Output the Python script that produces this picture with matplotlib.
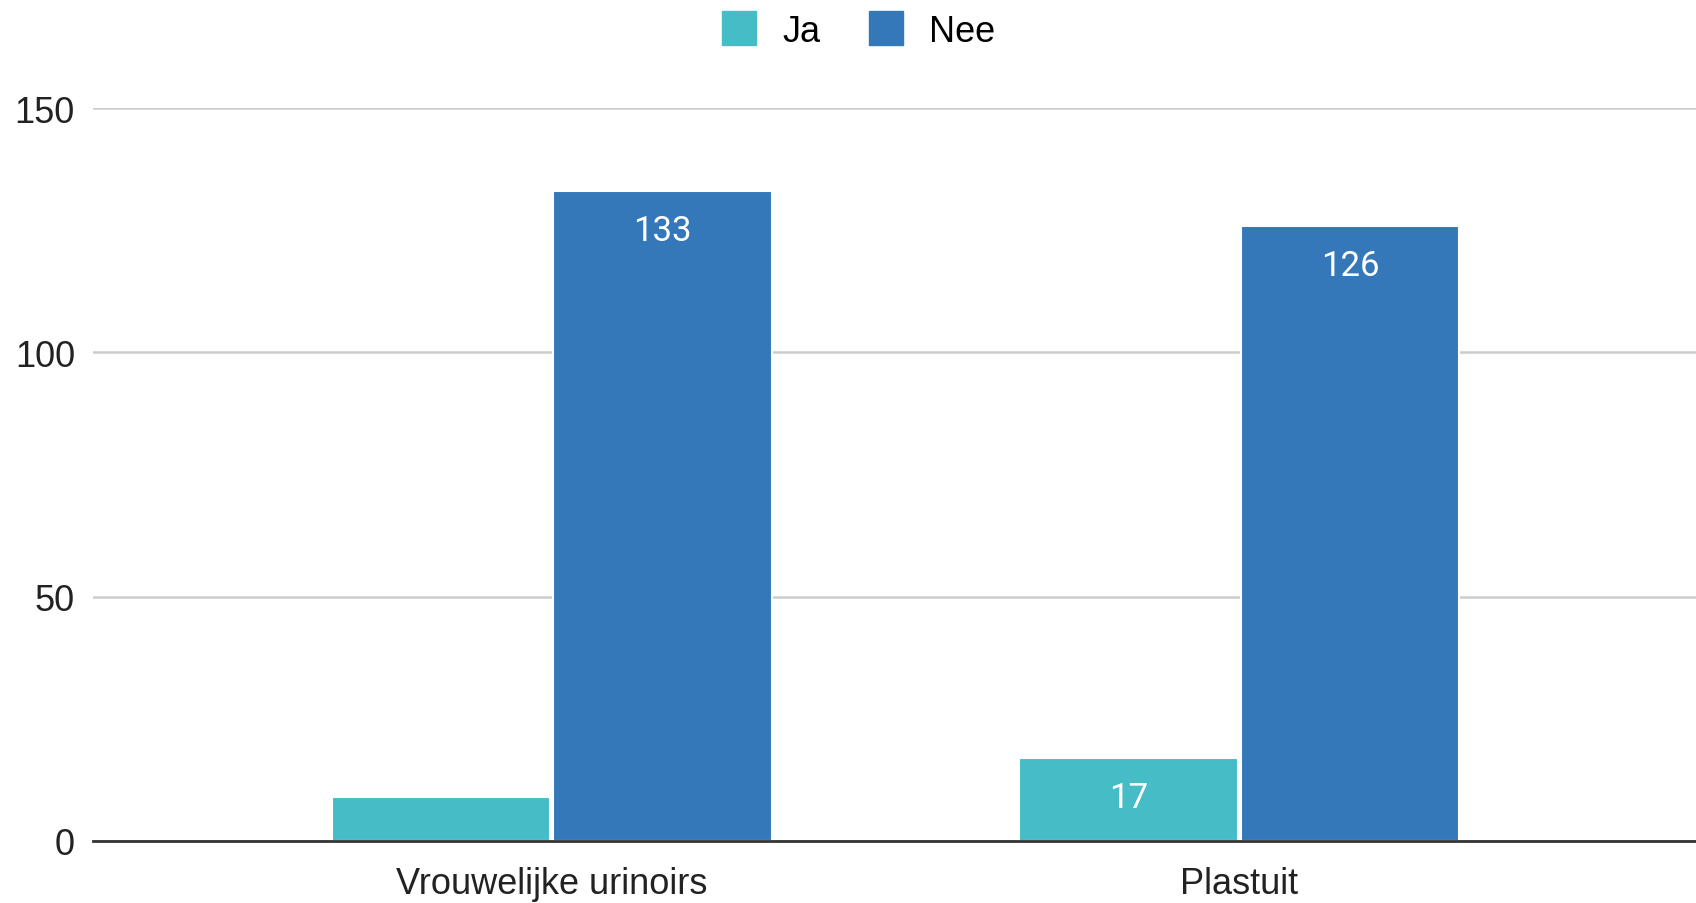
import numpy as np
import matplotlib.pyplot as plt

# data
categories = ["Vrouwelijke urinoirs", "Plastuit"]
ja = [9, 17]
nee = [133, 126]
series_names = ["Ja", "Nee"]
colors = ["#46BDC6", "#3478BA"]

plt.rcParams['font.family'] = ['Liberation Sans', 'DejaVu Sans']

fig = plt.figure(figsize=(16.96, 9.04), dpi=100)
ax = fig.add_axes([0.0548, 0.069, 0.9452, 0.81])

x = np.arange(len(categories))
w = 0.318
bars_ja = ax.bar(x - 0.161, ja, w, color=colors[0], edgecolor="white", linewidth=1.5, zorder=3)
bars_nee = ax.bar(x + 0.161, nee, w, color=colors[1], edgecolor="white", linewidth=1.5, zorder=3)

# value labels inside the bar tops (small bars stay unlabeled, like the original)
for bars in (bars_ja, bars_nee):
    for b in bars:
        h = b.get_height()
        if h < 12:
            continue
        ax.annotate(f"{h:g}", (b.get_x() + b.get_width() / 2, h),
                    xytext=(0, -28.5), textcoords="offset points",
                    ha="center", va="center", color="white",
                    fontsize=25, family=["Roboto", "DejaVu Sans"], zorder=4)

ax.set_ylim(0, 150)
ax.set_xlim(-0.667, 1.664)
ax.set_yticks([0, 50, 100, 150])
ax.set_xticks(x)
ax.set_xticklabels(categories)
ax.tick_params(axis="both", length=0, labelsize=26, labelcolor="#222222")
ax.tick_params(axis="y", pad=13)
ax.tick_params(axis="x", pad=18)

ax.grid(axis="y", color="#cccccc", linewidth=1.8, zorder=0)
ax.set_axisbelow(True)
for s in ["top", "right", "left"]:
    ax.spines[s].set_visible(False)
ax.spines["bottom"].set_color("#333333")
ax.spines["bottom"].set_linewidth(2)
ax.spines["bottom"].set_zorder(5)

handles = [plt.Line2D([], [], marker="s", linestyle="", markersize=25,
                      markerfacecolor=c, markeredgecolor=c) for c in colors]
fig.legend(handles, series_names, loc="center", bbox_to_anchor=(0.506, 0.964),
           ncol=2, frameon=False, fontsize=26, handletextpad=0.7,
           columnspacing=1.3, handlelength=1.0)

fig.savefig("out.png", dpi=100)
